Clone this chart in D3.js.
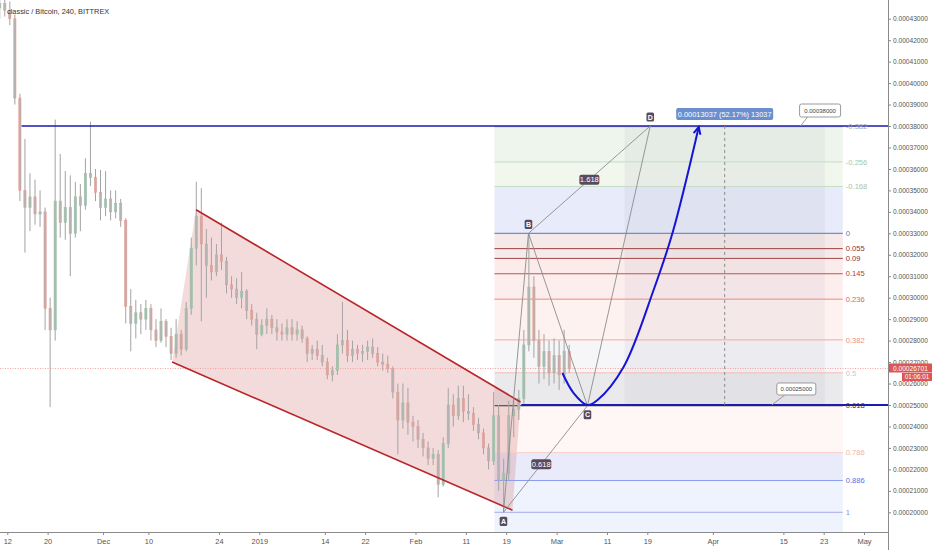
<!DOCTYPE html>
<html><head><meta charset="utf-8">
<script src="https://cdn.jsdelivr.net/npm/d3@7"></script>
<style>body{margin:0;background:#fff;} svg{display:block;font-family:"Liberation Sans",Arial,sans-serif;}</style>
</head><body><svg id="c" width="932" height="550"></svg>
<script>
// ---------- DATA (prices in satoshi, 1e-8 BTC) ----------
const startDay = "2018-11-10";
const open  = [43500,43700,43400,43000,39300,35000,34200,34700,33900,34000,29500,28500,34500,33500,34200,33000,34700,34300,35800,35600,
  34900,34200,34600,34000,34400,33600,29600,28800,29300,29000,29500,28500,28000,28900,28200,27400,28300,27600,29500,32300,
  33800,32500,31500,31200,32000,31700,30600,30400,30000,30300,29400,29000,28300,28700,29000,28600,28400,28300,28600,28300,
  28500,28100,27400,27600,27300,27000,26400,26600,27800,28000,27300,27600,27400,27500,27700,27400,27000,26900,26700,25600,
  24300,25100,24200,24000,23400,23000,22500,22700,21300,23200,25000,24500,25300,24700,24600,24100,23700,23000,22400,24500,
  21500,21800,24500,24800,25300,27800,30500,28000,26800,27500,26500,27300,26400,27500];
const high  = [44500,44200,43800,43200,39500,37400,35800,35500,35000,34200,30000,38300,36700,35900,35700,35400,35300,36500,38200,36000,
  35950,35900,35000,35000,34600,33700,30400,29900,29700,29900,29700,29000,29500,29000,28600,29000,28500,29800,32800,35400,
  35100,33200,32800,32500,33500,31900,31000,30900,31200,30400,29700,29300,29000,29500,29200,29000,28800,29000,29000,28900,
  28700,28200,27800,28000,27800,27200,26800,28300,29800,28500,28000,27800,27800,28000,28100,27700,27400,27300,26800,26000,
  26000,25800,24500,24300,23700,23300,23000,22900,23500,25800,25500,25900,25900,25500,24900,24400,23900,23200,25600,25000,
  22500,25200,25300,25700,28500,33000,31000,28500,28300,28000,28100,28000,28500,27800];
const low   = [43000,43100,42700,39000,34500,32100,33100,33400,33300,28500,24900,28000,32800,32700,31000,32800,33100,34100,35200,34500,
  33600,33800,33600,33700,33300,28800,27500,28100,28300,28500,28000,27700,27900,27700,27100,27200,27300,27500,29200,31500,
  28900,30000,30800,31000,31300,30200,30000,29700,29500,29000,28700,27600,28200,28300,28300,28000,28000,28000,28000,28000,
  27900,27000,27100,27100,26800,26200,26100,26400,27400,27000,27000,27100,27000,27100,27200,26800,26600,26500,25300,22700,
  23900,23600,23300,23000,22600,22200,22200,20700,21200,23000,24000,24300,24200,24300,23800,23400,22700,22000,22200,21000,
  20000,21500,23500,24300,25000,27500,27200,26000,26200,25900,26000,25700,26000,26500];
const close = [43700,43400,43000,39300,35000,34200,34700,33900,34000,29500,28500,34500,33500,34200,33000,34700,34300,35800,35600,34900,
  34200,34600,34000,34400,33600,29600,28800,29300,29000,29500,28500,28000,28900,28200,27400,28300,27600,29500,32300,33800,
  32500,31500,31200,32000,31700,30600,30400,30000,30300,29400,29000,28300,28700,29000,28600,28400,28300,28600,28300,28500,
  28100,27400,27600,27300,27000,26400,26600,27800,28000,27300,27600,27400,27500,27700,27400,27000,26900,26700,25600,24300,
  25100,24200,24000,23400,23000,22500,22700,21300,23200,25000,24500,25300,24700,24600,24100,23700,23000,22400,24500,21500,
  21800,24500,24800,25300,27800,30500,28000,26800,27500,26500,27300,26400,27500,26701];

const yTickValues = [20000,21000,22000,23000,24000,25000,26000,27000,28000,29000,30000,31000,32000,33000,34000,35000,36000,37000,38000,39000,40000,41000,42000,43000];
const xTickDates  = ["2018-11-12","2018-11-20","2018-12-01","2018-12-10","2018-12-24","2019-01-01","2019-01-14","2019-01-22","2019-02-01","2019-02-11","2019-02-19","2019-03-01","2019-03-11","2019-03-19","2019-04-01","2019-04-15","2019-04-23","2019-05-01"];
const xTickLabels = ["12","20","Dec","10","24","2019","14","22","Feb","11","19","Mar","11","19","Apr","15","23","May"];

const fibLevels = [-0.382,-0.256,-0.168,0,0.055,0.09,0.145,0.236,0.382,0.5,0.618,0.786,0.886,1];
const fibLabels = ["-0.382","-0.256","-0.168","0","0.055","0.09","0.145","0.236","0.382","0.5","0.618","0.786","0.886","1"];
const fibLow = 20000, fibHigh = 33000;
const fibStart = "2019-02-16T16:00Z", fibEnd = "2019-04-26T19:00Z";

const pointNames  = ["A","B","C","D"];
const pointDates  = ["2019-02-18T11:00Z","2019-02-23T10:00Z","2019-03-07T03:00Z","2019-03-19T14:00Z"];
const pointPrices = [20000,33000,24966,38000];
const ratioLabels = ["0.618","1.618"];

const channelUpperDates = ["2018-12-19T11:00Z","2019-02-21T20:00Z"], channelUpperPrices = [34100,25140];
const channelLowerDates = ["2018-12-14T17:00Z","2019-02-20T06:00Z"], channelLowerPrices = [27000,20100];

const hLinePrices = [38000,25000];
const hLineStarts = ["2018-11-14T20:00Z","2019-02-22T00:00Z"];

const rangeStart = "2019-03-14T12:00Z", rangeEnd = "2019-04-23T05:00Z";
const rangeLow = 24966, rangeHigh = 38003;
const rangeText = "0.00013037 (52.17%) 13037";

const curveDates  = ["2019-03-02T04:00Z","2019-03-04T09:00Z","2019-03-07T03:00Z","2019-03-09T03:00Z","2019-03-14T07:00Z","2019-03-20T06:00Z","2019-03-24T00:00Z","2019-03-29T05:00Z"];
const curvePrices = [26491,25558,25000,25233,26771,30359,33015,37955];

const calloutDates  = ["2019-04-18T10:00Z","2019-04-12T17:00Z"];
const calloutPrices = [38000,25000];
const calloutTexts  = ["0.00038000","0.00025000"];

const lastPrice = 26701, lastPriceText = "0.00026701", countdownText = "01:06:01";
const titleText = "classic / Bitcoin, 240, BITTREX";

// ---------- SETUP ----------
const svg = d3.select("#c");
const W = 932, H = 550, plotR = 888, plotB = 532;
const toSat = 1e-8;
const x = d3.scaleUtc().domain([new Date("2018-11-12T00:00Z"), new Date("2019-05-01T00:00Z")]).range([7.3, 864]);
const y = d3.scaleLinear().domain([20000, 43000]).range([512.3, 18.7]);
const D = s => new Date(s);

svg.append("defs").append("clipPath").attr("id","plot").append("rect").attr("x",0).attr("y",0).attr("width",plotR).attr("height",plotB);
const g = svg.append("g").attr("clip-path","url(#plot)");

// fib fills
const fibPrice = l => fibHigh - l*(fibHigh - fibLow);
const fibFill = ["#eef5ec","#f1f7ed","#e8ebf9","#f5e9e9","#f5ebeb","#fbebeb","#fdeeee","#fef2f0","#f6f5f8","#eaeaed","#fff7f5","#e9ebfb","#eef3fd","#eef3fd"];
const fibLine = ["#b5b5b5","#c5dcc5","#c5dcc5","#6a8fd6","#9b3d3d","#a34848","#c45050","#ec8a7e","#f3aba2","#f6bdb5","#333333","#f9cfc7","#8c9cf0","#a5aaea"];
const fibText = ["#a8a8a8","#a6c6a6","#a6c6a6","#4f76d6","#8e2f2f","#8e2f2f","#c0392b","#e0655a","#ee8f83","#c8c8c8","#333333","#f3b0a6","#5a70e6","#8c8ce6"];
const fx0 = x(D(fibStart)), fx1 = x(D(fibEnd));
fibLevels.forEach((l,i) => {
  const yt = y(fibPrice(l));
  const yb = i < fibLevels.length-1 ? y(fibPrice(fibLevels[i+1])) : plotB;
  g.append("rect").attr("x",fx0).attr("y",yt).attr("width",fx1-fx0).attr("height",yb-yt).attr("fill",fibFill[i]);
});

// price range rect
const rx0 = x(D(rangeStart)), rx1 = x(D(rangeEnd));
g.append("rect").attr("x",rx0).attr("y",y(rangeHigh)).attr("width",rx1-rx0).attr("height",y(rangeLow)-y(rangeHigh))
  .attr("fill","rgba(90,90,120,0.06)");

// channel fill
const cu = channelUpperDates.map((d,i)=>[x(D(d)), y(channelUpperPrices[i])]);
const cl = channelLowerDates.map((d,i)=>[x(D(d)), y(channelLowerPrices[i])]);
g.append("path").attr("d", d3.line()([cl[0], cu[0], cu[1], cl[1]]) + "Z").attr("fill","rgba(205,92,92,0.22)");

// fib lines
fibLevels.forEach((l,i) => {
  const yy = y(fibPrice(l));
  g.append("line").attr("x1",fx0).attr("x2",fx1).attr("y1",yy).attr("y2",yy)
    .attr("stroke",fibLine[i]).attr("stroke-width", (l===0.618||l===0.886||l===0)?1.2:1);
});

// current price line
g.append("line").attr("x1",0).attr("x2",plotR).attr("y1",y(lastPrice)).attr("y2",y(lastPrice))
  .attr("stroke","#f3a3a3").attr("stroke-width",1).attr("stroke-dasharray","1,1.5");

// candles
const day0 = D(startDay + "T12:00Z");
const candles = open.map((o,i)=>({t:new Date(day0.getTime()+i*864e5), o, h:high[i], l:low[i], c:close[i]}));
const cg = g.append("g");
candles.forEach(d => {
  const cx = x(d.t), up = d.c >= d.o;
  cg.append("line").attr("x1",cx).attr("x2",cx).attr("y1",y(d.h)).attr("y2",y(d.l)).attr("stroke","#a3a3a3").attr("stroke-width",1);
  const yt = y(Math.max(d.o,d.c)), yb = y(Math.min(d.o,d.c));
  cg.append("rect").attr("x",cx-1.1).attr("y",yt).attr("width",2.2).attr("height",Math.max(0.8,yb-yt))
    .attr("fill","#b4b4b4").attr("stroke", up ? "#94c4a6" : "#e99a92").attr("stroke-width",0.6);
});

// channel lines
[cu, cl].forEach(pts => g.append("line").attr("x1",pts[0][0]).attr("y1",pts[0][1]).attr("x2",pts[1][0]).attr("y2",pts[1][1])
  .attr("stroke","#b8262a").attr("stroke-width",1.6));

// horizontal blue lines
hLinePrices.forEach((p,i) => g.append("line").attr("x1",x(D(hLineStarts[i]))).attr("x2",plotR).attr("y1",y(p)).attr("y2",y(p))
  .attr("stroke","#1a1ab4").attr("stroke-width", i===0?1.4:2));

// price range dashed center
const rcx = (rx0+rx1)/2;
g.append("line").attr("x1",rcx).attr("x2",rcx).attr("y1",y(rangeHigh)).attr("y2",y(rangeLow))
  .attr("stroke","#8a8a8a").attr("stroke-dasharray","3,3").attr("stroke-width",1);

// ABCD pattern
const P = pointDates.map((d,i)=>[x(D(d)), y(pointPrices[i])]);
const segs = [[0,1],[1,2],[2,3],[0,2],[1,3]];
segs.forEach(([a,b]) => g.append("line").attr("x1",P[a][0]).attr("y1",P[a][1]).attr("x2",P[b][0]).attr("y2",P[b][1])
  .attr("stroke","#8c8c8c").attr("stroke-width",0.9));

// blue curve
const cpts = curveDates.map((d,i)=>[x(D(d)), y(curvePrices[i])]);
g.append("path").attr("d", d3.line().curve(d3.curveCatmullRom.alpha(0.5))(cpts)).attr("fill","none").attr("stroke","#1515d6").attr("stroke-width",2);
{
  const [x2,y2] = cpts[cpts.length-1], [x1,y1] = cpts[cpts.length-2];
  const ang = Math.atan2(y2-y1, x2-x1), L = 8;
  const a1 = ang + Math.PI - 0.45, a2 = ang + Math.PI + 0.45;
  g.append("path").attr("d", `M${x2+L*Math.cos(a1)},${y2+L*Math.sin(a1)}L${x2},${y2}L${x2+L*Math.cos(a2)},${y2+L*Math.sin(a2)}`)
    .attr("fill","none").attr("stroke","#1515d6").attr("stroke-width",2);
}

// ratio labels
function tag(cx, cy, txt, w, h, fs) {
  g.append("rect").attr("x",cx-w/2).attr("y",cy-h/2).attr("width",w).attr("height",h).attr("rx",2).attr("fill","#5a4a5e");
  g.append("text").attr("x",cx).attr("y",cy+fs*0.36).attr("text-anchor","middle").attr("font-size",fs).attr("fill","#fff").text(txt);
}
const mid = (a,b,t)=>[P[a][0]+(P[b][0]-P[a][0])*t, P[a][1]+(P[b][1]-P[a][1])*t];
const m1 = mid(0,2,0.45), m2 = mid(1,3,0.5);
tag(m1[0], m1[1], ratioLabels[0], 20, 10, 7.6);
tag(m2[0], m2[1], ratioLabels[1], 20, 10, 7.6);
// point labels
const offs = [9, -9, 9, -9];
P.forEach((p,i) => {
  const cx = p[0], cy = p[1] + offs[i];
  g.append("rect").attr("x",cx-3.8).attr("y",cy-4.6).attr("width",7.6).attr("height",9.2).attr("rx",1.5).attr("fill","#5a4a5e");
  g.append("text").attr("x",cx).attr("y",cy+2.6).attr("text-anchor","middle").attr("font-size",7).attr("font-weight","bold").attr("fill","#fff").text(pointNames[i]);
});

// price range label
{
  const w = 97, h = 12, yb = y(rangeHigh) - 6;
  g.append("rect").attr("x",rcx-w/2).attr("y",yb-h).attr("width",w).attr("height",h).attr("rx",2).attr("fill","#6b8ecf");
  g.append("text").attr("x",rcx).attr("y",yb-3.3).attr("text-anchor","middle").attr("font-size",7.4).attr("fill","#fff").text(rangeText);
}

// callouts
const cOff = [[-1,-22,41,13],[5,-22,39,12]];
calloutDates.forEach((d,i) => {
  const ax = x(D(d)), ay = y(calloutPrices[i]);
  const [dx,dy,w,h] = cOff[i];
  g.append("line").attr("x1",ax).attr("y1",ay).attr("x2",ax+dx+8).attr("y2",ay+dy+h).attr("stroke","#999").attr("stroke-width",1);
  g.append("rect").attr("x",ax+dx).attr("y",ay+dy).attr("width",w).attr("height",h).attr("rx",2).attr("fill","#fff").attr("stroke","#9a9a9a").attr("stroke-width",1);
  g.append("text").attr("x",ax+dx+w/2).attr("y",ay+dy+h/2+2.2).attr("text-anchor","middle").attr("font-size",6).attr("fill","#444").text(calloutTexts[i]);
});

// fib labels
fibLevels.forEach((l,i) => {
  g.append("text").attr("x",fx1+3).attr("y",y(fibPrice(l))+2.7).attr("font-size",7.6).attr("fill",fibText[i]).text(fibLabels[i]);
});

// title (drawn over the chart)
g.append("text").attr("x",7).attr("y",14).attr("font-size",7.4).attr("fill","#333").text(titleText);

// ---------- AXES ----------
const yAxis = d3.axisRight(y).tickValues(yTickValues).tickSize(3).tickPadding(2).tickFormat(v => (v*toSat).toFixed(8));
const ya = svg.append("g").attr("transform",`translate(${plotR},0)`).call(yAxis);
ya.select(".domain").remove();
ya.selectAll("line").attr("stroke","#888");
ya.selectAll("text").attr("font-size",6.6).attr("fill","#555").attr("font-family","Liberation Sans, Arial, sans-serif");
svg.append("line").attr("x1",plotR+0.5).attr("x2",plotR+0.5).attr("y1",0).attr("y2",H).attr("stroke","#8a8a8a").attr("stroke-width",1);

const xAxis = d3.axisBottom(x).tickValues(xTickDates.map(s=>D(s+"T00:00Z"))).tickSize(3).tickPadding(4)
  .tickFormat((d,i)=>xTickLabels[i]);
const xa = svg.append("g").attr("transform",`translate(0,${plotB})`).call(xAxis);
xa.select(".domain").remove();
xa.selectAll("line").attr("stroke","#888");
xa.selectAll("text").attr("font-size",7.4).attr("fill","#555").attr("font-family","Liberation Sans, Arial, sans-serif");
svg.append("line").attr("x1",0).attr("x2",plotR).attr("y1",plotB+0.5).attr("y2",plotB+0.5).attr("stroke","#8a8a8a").attr("stroke-width",1);

// last price label
{
  const ly = y(lastPrice);
  svg.append("rect").attr("x",plotR+1).attr("y",ly-5).attr("width",43).attr("height",9).attr("fill","#dc5656");
  svg.append("text").attr("x",plotR+5).attr("y",ly+2.2).attr("font-size",6.6).attr("fill","#fff").text(lastPriceText);
  svg.append("rect").attr("x",plotR+14).attr("y",ly+4.5).attr("width",30).attr("height",8).attr("fill","#dc5656");
  svg.append("text").attr("x",plotR+29).attr("y",ly+10.8).attr("text-anchor","middle").attr("font-size",6.3).attr("fill","#fff").text(countdownText);
}
</script></body></html>
